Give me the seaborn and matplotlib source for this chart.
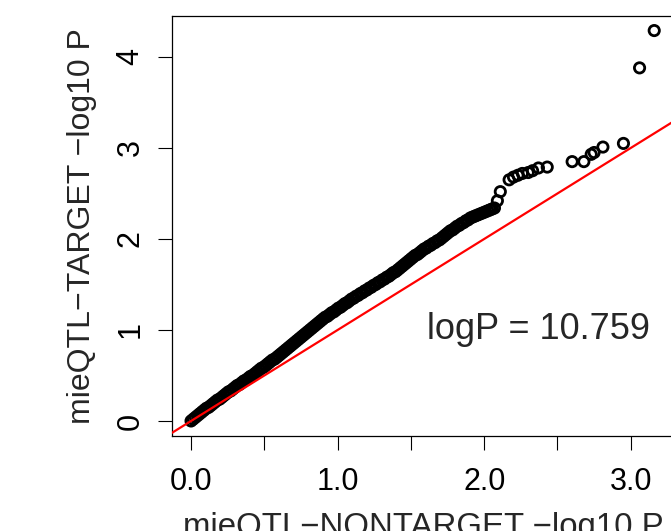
import pandas as pd
import matplotlib
matplotlib.use('Agg')
import matplotlib.pyplot as plt
import seaborn as sns

# dense part of the QQ curve
band_x = [0.000, 0.015, 0.030, 0.045, 0.060, 0.075, 0.090, 0.105, 0.120, 0.135,
          0.150, 0.165, 0.180, 0.195, 0.210, 0.225, 0.240, 0.255, 0.270, 0.285,
          0.300, 0.315, 0.330, 0.345, 0.360, 0.375, 0.390, 0.405, 0.420, 0.435,
          0.450, 0.465, 0.480, 0.495, 0.510, 0.525, 0.540, 0.555, 0.570, 0.585,
          0.600, 0.615, 0.630, 0.645, 0.660, 0.675, 0.690, 0.705, 0.720, 0.735,
          0.750, 0.765, 0.780, 0.795, 0.810, 0.825, 0.840, 0.855, 0.870, 0.885,
          0.900, 0.915, 0.930, 0.945, 0.960, 0.975, 0.990, 1.005, 1.020, 1.035,
          1.050, 1.065, 1.080, 1.095, 1.110, 1.125, 1.140, 1.155, 1.170, 1.185,
          1.200, 1.215, 1.230, 1.245, 1.260, 1.275, 1.290, 1.305, 1.320, 1.335,
          1.350, 1.365, 1.380, 1.395, 1.410, 1.425, 1.440, 1.455, 1.470, 1.485,
          1.500, 1.515, 1.530, 1.545, 1.560, 1.575, 1.590, 1.605, 1.620, 1.635,
          1.650, 1.665, 1.680, 1.695, 1.710, 1.725, 1.740, 1.755, 1.770, 1.785,
          1.800, 1.815, 1.830, 1.845, 1.860, 1.875, 1.890, 1.905, 1.920, 1.935,
          1.950, 1.965, 1.980, 1.995, 2.010, 2.025, 2.040, 2.055, 2.070]
band_y = [0.00, 0.02, 0.04, 0.06, 0.08, 0.10, 0.12, 0.14, 0.15, 0.17,
          0.19, 0.21, 0.23, 0.24, 0.26, 0.28, 0.30, 0.32, 0.33, 0.35,
          0.37, 0.39, 0.40, 0.42, 0.44, 0.45, 0.47, 0.49, 0.50, 0.52,
          0.54, 0.56, 0.58, 0.59, 0.61, 0.63, 0.65, 0.67, 0.68, 0.70,
          0.72, 0.74, 0.76, 0.78, 0.80, 0.82, 0.84, 0.86, 0.88, 0.90,
          0.92, 0.94, 0.96, 0.98, 1.00, 1.02, 1.04, 1.06, 1.08, 1.10,
          1.12, 1.14, 1.15, 1.17, 1.19, 1.20, 1.22, 1.24, 1.25, 1.27,
          1.29, 1.30, 1.32, 1.34, 1.35, 1.37, 1.38, 1.40, 1.41, 1.43,
          1.44, 1.46, 1.47, 1.49, 1.50, 1.52, 1.53, 1.55, 1.56, 1.58,
          1.59, 1.61, 1.63, 1.64, 1.66, 1.68, 1.70, 1.72, 1.74, 1.76,
          1.78, 1.80, 1.82, 1.83, 1.85, 1.87, 1.89, 1.90, 1.92, 1.93,
          1.95, 1.96, 1.98, 1.99, 2.01, 2.03, 2.05, 2.07, 2.09, 2.10,
          2.12, 2.14, 2.15, 2.17, 2.18, 2.20, 2.21, 2.23, 2.24, 2.25,
          2.26, 2.27, 2.28, 2.29, 2.30, 2.31, 2.32, 2.33, 2.34]

# sparse tail points
tail_x = [2.09, 2.11, 2.17, 2.20, 2.23, 2.26, 2.30, 2.33, 2.37, 2.43,
          2.60, 2.68, 2.73, 2.75, 2.81, 2.95, 3.06, 3.16]
tail_y = [2.42, 2.52, 2.65, 2.68, 2.70, 2.72, 2.73, 2.75, 2.78, 2.79,
          2.85, 2.85, 2.93, 2.95, 3.01, 3.05, 3.88, 4.29]

x_ticks = [0.0, 0.5, 1.0, 1.5, 2.0, 2.5, 3.0]
x_ticklabels = ['0.0', '', '1.0', '', '2.0', '', '3.0']
y_ticks = [0, 1, 2, 3, 4]
y_ticklabels = ['0', '1', '2', '3', '4']

annot = 'logP = 10.759'

sns.set_style('ticks')
plt.rcParams['font.family'] = ['Liberation Sans', 'DejaVu Sans']

df = pd.DataFrame({'nontarget': band_x + tail_x, 'target': band_y + tail_y})

fig = plt.figure(figsize=(6.71, 5.31), dpi=100)
ax = fig.add_axes([172 / 671, 95 / 531, 513 / 671, 420 / 531])

sns.scatterplot(data=df, x='nontarget', y='target', marker='o', s=55,
                linewidth=2.0, ax=ax, zorder=2)
pts = ax.collections[0]
pts.set_facecolor('none')
pts.set_edgecolor('black')

# y = x reference line
ax.axline((0, 0), slope=1, color='#ff0000', lw=1.6, zorder=3)

ax.text(2.37, 0.90, annot, fontsize=26, ha='center', va='baseline')

ax.set_xlim(-0.13, 3.37)
ax.set_ylim(-0.165, 4.45)
ax.set_xticks(x_ticks)
ax.set_xticklabels(x_ticklabels)
ax.set_yticks(y_ticks)
ax.set_yticklabels(y_ticklabels)

ax.tick_params(axis='both', direction='out', length=10, width=0.8,
               color='black', labelsize=22, labelcolor='black')
ax.tick_params(axis='x', pad=12)
ax.tick_params(axis='y', pad=9, labelrotation=90)
for lbl in ax.get_yticklabels():
    lbl.set_va('center')

for sp in ax.spines.values():
    sp.set_visible(True)
    sp.set_color('black')
    sp.set_linewidth(0.9)

ax.set_xlabel('mieQTL\u2212NONTARGET \u2212log10 P', fontsize=23.8)
ax.set_ylabel('mieQTL\u2212TARGET \u2212log10 P', fontsize=23)
ax.xaxis.set_label_coords(0.49, -0.181)
ax.yaxis.set_label_coords(-0.146, 0.5)

fig.savefig('out.png', dpi=100)
plt.close()
